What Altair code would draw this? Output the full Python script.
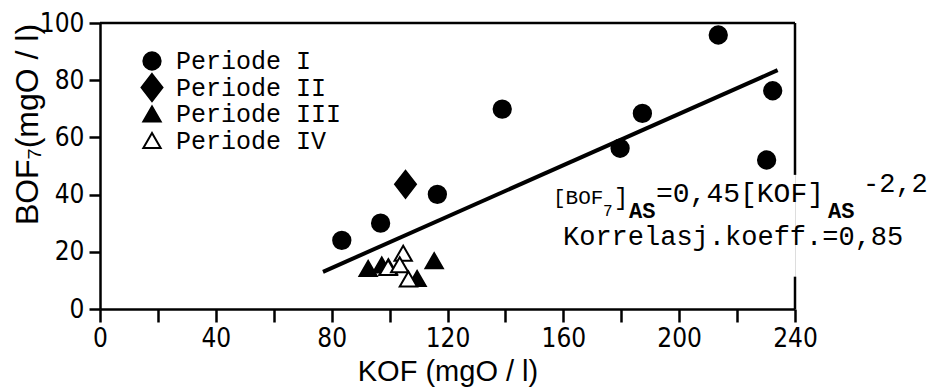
import altair as alt
import pandas as pd

# ---- data ----
periods = ["Periode I", "Periode II", "Periode III", "Periode IV"]

p1_kof = [83.5, 96.9, 116.5, 138.9, 179.6, 187.3, 213.5, 232.3, 230.2]
p1_bof = [24.0, 30.0, 40.1, 69.9, 56.2, 68.4, 95.8, 76.3, 52.1]

p2_kof = [105.5]
p2_bof = [43.6]

p3_kof = [92.6, 97.3, 99.6, 109.5, 115.4]
p3_bof = [14.2, 15.4, 14.8, 10.7, 16.9]

p4_kof = [104.7, 99.5, 103.5, 106.5]
p4_bof = [19.5, 14.5, 15.5, 10.5]

fit_kof = [77.0, 234.0]
fit_bof = [13.0, 83.5]

x_ticks = list(range(0, 241, 20))
y_ticks = list(range(0, 101, 10))

# ---- tables ----
rows = []
for name, xs, ys in zip(periods, [p1_kof, p2_kof, p3_kof, p4_kof], [p1_bof, p2_bof, p3_bof, p4_bof]):
    for a, b in zip(xs, ys):
        rows.append({"kof": a, "bof": b, "period": name})
pts = pd.DataFrame(rows)
fit = pd.DataFrame({"kof": fit_kof, "bof": fit_bof})
frame = pd.DataFrame({
    "x": [0, 240, 240], "x2": [240, 240, 240],
    "y": [100, 100, 11.3], "y2": [100, 46.9, 0],
})
leg_df = pd.DataFrame({"period": periods, "row": list(range(len(periods)))})

NARROW = "Liberation Sans Narrow, DejaVu Sans Condensed, Liberation Sans, sans-serif"
SANS = "Liberation Sans, Arial, sans-serif"
MONO = "Liberation Mono, DejaVu Sans Mono, monospace"

diamond = "M0,-1.56L1.21,0L0,1.56L-1.21,0Z"

xscale = alt.Scale(domain=[0, 240], nice=False, zero=False)
yscale = alt.Scale(domain=[0, 100], nice=False)
shape_scale = alt.Scale(domain=periods, range=["circle", diamond, "triangle-up", "triangle-up"])
fill_scale = alt.Scale(domain=periods, range=["black", "black", "black", "white"])
stroke_scale = alt.Scale(domain=periods, range=["black", "black", "black", "black"])

xaxis = alt.Axis(
    values=x_ticks, labelExpr="datum.value % 40 === 0 ? datum.label : ''",
    grid=False, tickSize=13, tickWidth=2.5, tickColor="black",
    domainWidth=2.5, domainColor="black", labelFont=NARROW, labelFontSize=26,
    labelColor="black", labelPadding=3, labelFlush=False,
    title="KOF (mgO / l)", titleFont=SANS, titleFontSize=29, titleFontWeight="normal",
    titleColor="black", titleY=71, titleBaseline="alphabetic",
)
yaxis = alt.Axis(
    values=y_ticks, labelExpr="datum.value % 20 === 0 ? datum.label : ''",
    grid=False,
    tickSize={"condition": {"test": "datum.value % 20 === 0", "value": 11}, "value": 7},
    tickWidth=2.5, tickColor="black",
    domainWidth=2.5, domainColor="black", labelFont=NARROW, labelFontSize=26,
    labelColor="black", labelPadding=5, labelFlush=False,
    title="BOF\u2087(mgO / l)", titleFont=SANS, titleFontSize=32, titleFontWeight="normal",
    titleColor="black", titleX=-63, titleY=101, titleAngle=-90, titleAlign="center",
    titleBaseline="alphabetic",
)

border = alt.Chart(frame).mark_rule(color="black", strokeWidth=2.5).encode(
    x=alt.X("x:Q", scale=xscale, axis=xaxis), x2="x2:Q",
    y=alt.Y("y:Q", scale=yscale, axis=yaxis), y2="y2:Q",
)

line = alt.Chart(fit).mark_line(color="black", strokeWidth=4).encode(
    x=alt.X("kof:Q", scale=xscale), y=alt.Y("bof:Q", scale=yscale)
)

points = alt.Chart(pts).mark_point(filled=True, strokeWidth=2, size=300, opacity=1).encode(
    x=alt.X("kof:Q", scale=xscale),
    y=alt.Y("bof:Q", scale=yscale),
    shape=alt.Shape("period:N", scale=shape_scale, legend=None),
    fill=alt.Fill("period:N", scale=fill_scale, legend=None),
    stroke=alt.Stroke("period:N", scale=stroke_scale, legend=None),
)

# key (legend) drawn in the upper-left of the plot
leg_sym = alt.Chart(leg_df).mark_point(filled=True, strokeWidth=2, size=300, opacity=1).transform_calculate(
    py="38 + 26.5 * datum.row"
).encode(
    x=alt.value(52),
    y=alt.Y("py:Q", scale=None),
    shape=alt.Shape("period:N", scale=shape_scale, legend=None),
    fill=alt.Fill("period:N", scale=fill_scale, legend=None),
    stroke=alt.Stroke("period:N", scale=stroke_scale, legend=None),
)
leg_txt = alt.Chart(leg_df).mark_text(
    align="left", baseline="middle", font=MONO, fontSize=25, color="black"
).transform_calculate(
    py="38 + 26.5 * datum.row"
).encode(x=alt.value(76), y=alt.Y("py:Q", scale=None), text="period:N")

# equation annotation pieces: text, x, y (pixels in plot area), size, weight
notes = [
    ("[BOF", 453, 181, 21, "normal"),
    ("7", 503, 193, 16, "normal"),
    ("]", 514, 182, 24, "normal"),
    ("AS", 529, 195, 22, "bold"),
    ("=0,45[KOF]", 556, 179, 28, "normal"),
    ("AS", 728, 195, 22, "bold"),
    ("-2,2", 763, 169, 27, "normal"),
    ("Korrelasj.koeff.=0,85", 463, 222, 27, "normal"),
]
texts = []
for t, px, py, fs, fw in notes:
    texts.append(
        alt.Chart(pd.DataFrame({"t": [t]})).mark_text(
            align="left", baseline="alphabetic", font=MONO, fontSize=fs,
            fontWeight=fw, color="black",
        ).encode(x=alt.value(px), y=alt.value(py), text="t:N")
    )

chart = alt.layer(border, line, points, leg_sym, leg_txt, *texts).properties(
    width=695, height=286,
    autosize=alt.AutoSizeParams(type="none"),
    padding={"left": 92, "top": 15, "right": 140, "bottom": 80},
).configure_view(stroke=None).configure(background="white")

chart.save("out.html", embed_options={"renderer": "svg", "actions": False})
